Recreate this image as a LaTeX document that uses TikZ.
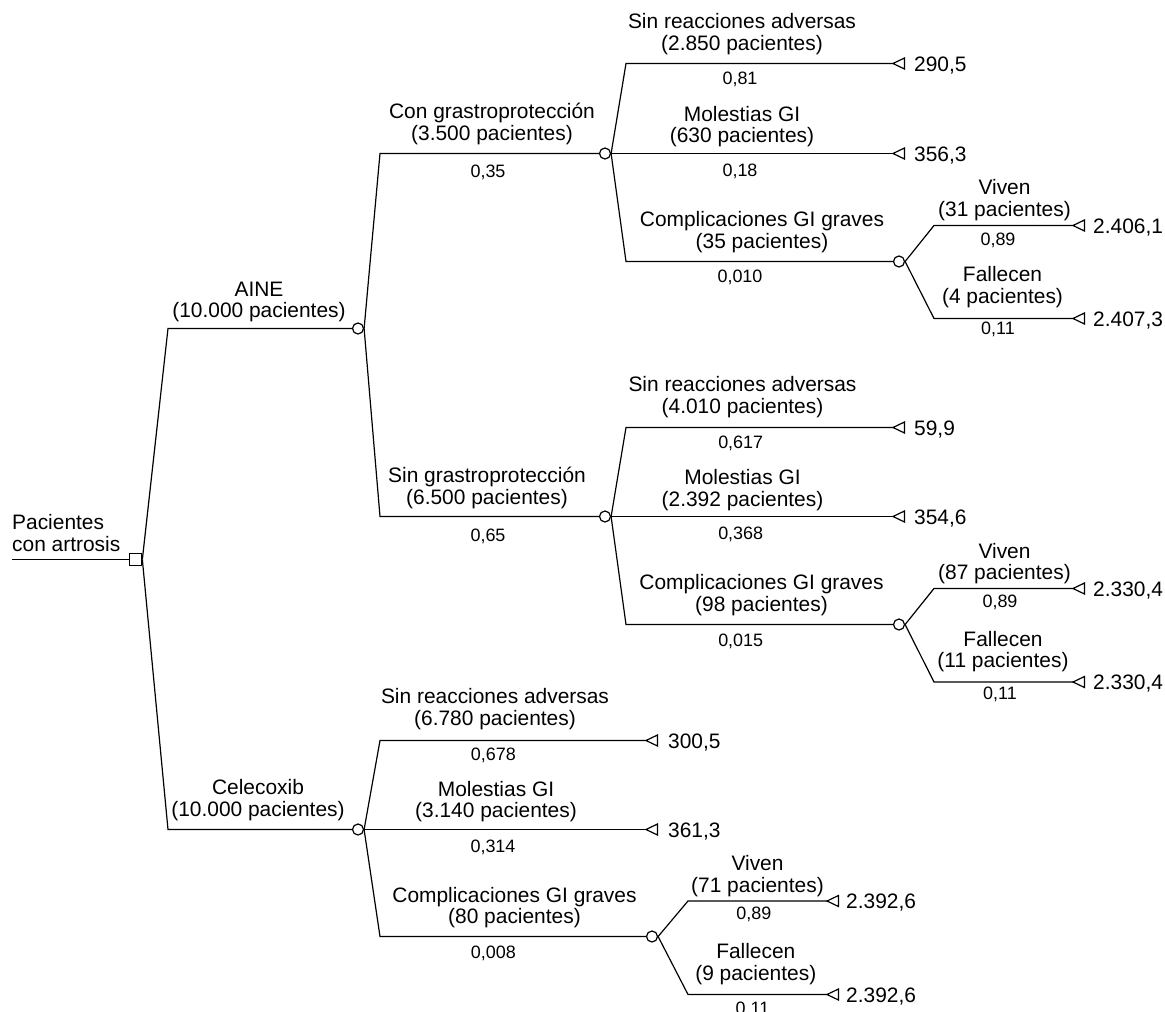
\documentclass[tikz,border=0pt]{standalone}
\usepackage{fontspec}
\setmainfont{Liberation Sans}
\newcommand\lblfont{\fontsize{21}{21.5}\selectfont}
\newcommand\probfont{\fontsize{18}{19}\selectfont}
\begin{document}
\begin{tikzpicture}[x=1bp,y=-1bp,
  branch/.style={line width=1.2bp,line join=miter},
  chance/.style={circle,draw,line width=1.2bp,fill=white,minimum size=11bp,inner sep=0pt},
  decision/.style={rectangle,draw,line width=1.2bp,fill=white,minimum size=12.5bp,inner sep=0pt},
  lbl/.style={font=\lblfont,align=center,anchor=south,inner sep=0pt},
  prob/.style={font=\probfont,anchor=base,inner sep=0pt},
  val/.style={font=\lblfont,anchor=base west,inner sep=0pt},
  pics/termtri/.style={code={\draw[line width=1.2bp,line join=miter] (0,0) -- (11.5,-5.5) -- (11.5,5.5) -- cycle;}}
]
\useasboundingbox (0,-0.5) rectangle (1165,1011.5);

% root
\coordinate (start) at (12,559);
\node[decision] (d0) at (135.5,559) {};
\draw[branch] (start) -- (d0.west);
\node[font=\lblfont,align=left,anchor=south west,inner sep=0pt] (rootlbl) at (12,551.3) {Pacientes\\con artrosis};

% level 1
\coordinate (b1) at (168,328);
\node[chance] (c1) at (358,328) {};
\draw[branch] (d0.east) -- (b1) -- (c1.west);
\node[lbl] (l1) at (259,321.7) {AINE\\(10.000 pacientes)};

\coordinate (b2) at (168,829);
\node[chance] (c2) at (358,829) {};
\draw[branch] (d0.east) -- (b2) -- (c2.west);
\node[lbl] (l2) at (258,820.4) {Celecoxib\\(10.000 pacientes)};

% level 2 (AINE)
\coordinate (b3) at (380,153);
\node[chance] (c3) at (605,153) {};
\draw[branch] (c1.east) -- (b3) -- (c3.west);
\node[lbl] (l3) at (492,144.4) {Con grastroprotección\\(3.500 pacientes)};
\node[prob] (p3) at (488,177.3) {0,35};

\coordinate (b4) at (380,516);
\node[chance] (c4) at (605,516) {};
\draw[branch] (c1.east) -- (b4) -- (c4.west);
\node[lbl] (l4) at (487,508.4) {Sin grastroprotección\\(6.500 pacientes)};
\node[prob] (p4) at (488,541.3) {0,65};

% c3 subtree
\coordinate (b5) at (626,63);
\coordinate (t5) at (893,63);
\draw[branch] (c3.east) -- (b5) -- (t5);
\pic at (t5) {termtri};
\node[lbl] (l5) at (742,54.4) {Sin reacciones adversas\\(2.850 pacientes)};
\node[prob] (p5) at (740,84.3) {0,81};
\node[val] (v5) at (914,70.5) {290,5};

\coordinate (t6) at (893,153);
\draw[branch] (c3.east) -- (t6);
\pic at (t6) {termtri};
\node[lbl] (l6) at (742,146.9) {Molestias GI\\(630 pacientes)};
\node[prob] (p6) at (740,175.8) {0,18};
\node[val] (v6) at (914,160.5) {356,3};

\coordinate (b7) at (626,261);
\node[chance] (c7) at (899,261) {};
\draw[branch] (c3.east) -- (b7) -- (c7.west);
\node[lbl] (l7) at (762,252.4) {Complicaciones GI graves\\(35 pacientes)};
\node[prob] (p7) at (740,282.3) {0,010};

\coordinate (b8) at (934,225);
\coordinate (t8) at (1073,225);
\draw[branch] (c7.east) -- (b8) -- (t8);
\pic at (t8) {termtri};
\node[lbl] (l8) at (1004.5,220.1) {Viven\\(31 pacientes)};
\node[prob] (p8) at (998,245) {0,89};
\node[val] (v8) at (1093,232.5) {2.406,1};

\coordinate (b9) at (934,318);
\coordinate (t9) at (1073,318);
\draw[branch] (c7.east) -- (b9) -- (t9);
\pic at (t9) {termtri};
\node[lbl] (l9) at (1002.5,307.4) {Fallecen\\(4 pacientes)};
\node[prob] (p9) at (998,334.3) {0,11};
\node[val] (v9) at (1093,325.5) {2.407,3};

% c4 subtree
\coordinate (b10) at (626,427);
\coordinate (t10) at (893,427);
\draw[branch] (c4.east) -- (b10) -- (t10);
\pic at (t10) {termtri};
\node[lbl] (l10) at (742.5,417.1) {Sin reacciones adversas\\(4.010 pacientes)};
\node[prob] (p10) at (740.7,448) {0,617};
\node[val] (v10) at (914,434.5) {59,9};

\coordinate (t11) at (893,516);
\draw[branch] (c4.east) -- (t11);
\pic at (t11) {termtri};
\node[lbl] (l11) at (742.5,510.4) {Molestias GI\\(2.392 pacientes)};
\node[prob] (p11) at (740.7,539.3) {0,368};
\node[val] (v11) at (914,523.5) {354,6};

\coordinate (b12) at (626,624);
\node[chance] (c12) at (899,624) {};
\draw[branch] (c4.east) -- (b12) -- (c12.west);
\node[lbl] (l12) at (761.5,615.1) {Complicaciones GI graves\\(98 pacientes)};
\node[prob] (p12) at (740.7,646) {0,015};

\coordinate (b13) at (934,588);
\coordinate (t13) at (1073,588);
\draw[branch] (c12.east) -- (b13) -- (t13);
\pic at (t13) {termtri};
\node[lbl] (l13) at (1004.5,583.7) {Viven\\(87 pacientes)};
\node[prob] (p13) at (1000,606.8) {0,89};
\node[val] (v13) at (1093,595.5) {2.330,4};

\coordinate (b14) at (934,681.5);
\coordinate (t14) at (1073,681.5);
\draw[branch] (c12.east) -- (b14) -- (t14);
\pic at (t14) {termtri};
\node[lbl] (l14) at (1003,671.7) {Fallecen\\(11 pacientes)};
\node[prob] (p14) at (1000,699.3) {0,11};
\node[val] (v14) at (1093,689) {2.330,4};

% c2 subtree (Celecoxib)
\coordinate (b15) at (380,740);
\coordinate (t15) at (646,740);
\draw[branch] (c2.east) -- (b15) -- (t15);
\pic at (t15) {termtri};
\node[lbl] (l15) at (495,729.4) {Sin reacciones adversas\\(6.780 pacientes)};
\node[prob] (p15) at (493.3,760.3) {0,678};
\node[val] (v15) at (668,747.5) {300,5};

\coordinate (t16) at (646,829);
\draw[branch] (c2.east) -- (t16);
\pic at (t16) {termtri};
\node[lbl] (l16) at (496,821.7) {Molestias GI\\(3.140 pacientes)};
\node[prob] (p16) at (493,851.8) {0,314};
\node[val] (v16) at (668,836.5) {361,3};

\coordinate (b17) at (380,936);
\node[chance] (c17) at (652,936) {};
\draw[branch] (c2.east) -- (b17) -- (c17.west);
\node[lbl] (l17) at (514.5,927.7) {Complicaciones GI graves\\(80 pacientes)};
\node[prob] (p17) at (493.3,958) {0,008};

\coordinate (b18) at (688,900.5);
\coordinate (t18) at (827,900.5);
\draw[branch] (c17.east) -- (b18) -- (t18);
\pic at (t18) {termtri};
\node[lbl] (l18) at (757.5,896.4) {Viven\\(71 pacientes)};
\node[prob] (p18) at (753.8,919.3) {0,89};
\node[val] (v18) at (846,908) {2.392,6};

\coordinate (b19) at (688,994);
\coordinate (t19) at (827,994);
\draw[branch] (c17.east) -- (b19) -- (t19);
\pic at (t19) {termtri};
\node[lbl] (l19) at (755.8,984.4) {Fallecen\\(9 pacientes)};
\node[prob] (p19) at (752.5,1014.3) {0,11};
\node[val] (v19) at (846,1001.5) {2.392,6};
\end{tikzpicture}
\end{document}
